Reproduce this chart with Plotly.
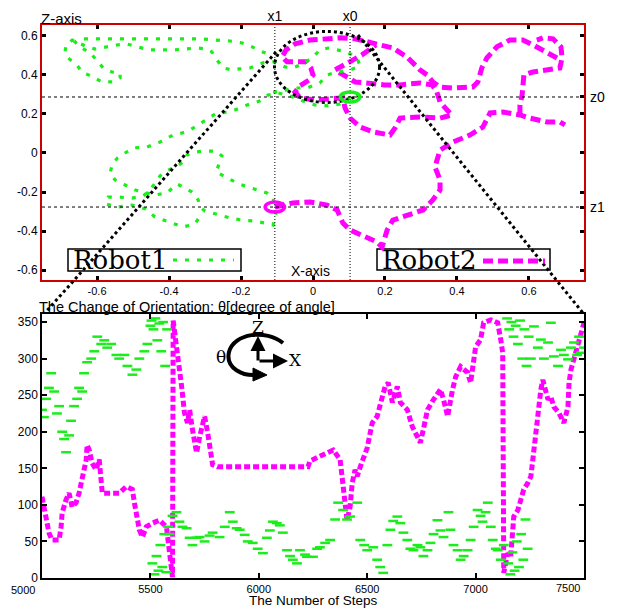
import plotly.graph_objects as go

W, H = 619, 608
OFF = 8  # the page body margin shifts the figure by this many pixels

# ---------------- top panel: positions in the X-Z plane ----------------
x0_pos, z0_pos = 0.103, 0.287
x1_pos, z1_pos = -0.106, -0.277

top_ticks = [-0.6, -0.4, -0.2, 0, 0.2, 0.4, 0.6]
top_tick_text = ['-0.6', '-0.4', '-0.2', '0', '0.2', '0.4', '0.6']

# Robot1 trajectory (two recorded pieces)
r1_a_x = [0.103, 0.075, 0.042, 0.006, -0.028, -0.064, -0.097, -0.125, -0.147, -0.183, -0.231, -0.267, -0.306, -0.35,
          -0.389, -0.425, -0.461, -0.5, -0.522, -0.544, -0.558, -0.564, -0.55, -0.522, -0.494, -0.461, -0.439, -0.406,
          -0.378, -0.361, -0.336, -0.319, -0.314, -0.3, -0.267, -0.231, -0.197, -0.161, -0.133, -0.111, -0.103, -0.108,
          -0.111, -0.128, -0.156, -0.189, -0.211, -0.239, -0.269, -0.261, -0.253, -0.269, -0.3, -0.328, -0.35, -0.356,
          -0.378, -0.406, -0.425, -0.439, -0.453, -0.472, -0.503, -0.542, -0.569, -0.575, -0.542, -0.503, -0.464,
          -0.439, -0.406, -0.361, -0.328, -0.314]
r1_a_z = [0.287, 0.251, 0.241, 0.246, 0.267, 0.292, 0.308, 0.297, 0.267, 0.246, 0.21, 0.205, 0.159, 0.108, 0.092,
          0.056, 0.031, 0.026, 0, -0.026, -0.062, -0.103, -0.138, -0.164, -0.19, -0.205, -0.215, -0.205, -0.159,
          -0.174, -0.2, -0.241, -0.277, -0.297, -0.313, -0.333, -0.344, -0.349, -0.359, -0.369, -0.313, -0.262,
          -0.226, -0.205, -0.19, -0.169, -0.154, -0.128, -0.097, -0.056, -0.015, 0.01, 0.01, 0.005, -0.01, -0.041,
          -0.067, -0.092, -0.118, -0.154, -0.19, -0.221, -0.231, -0.226, -0.226, -0.262, -0.277, -0.267, -0.287,
          -0.328, -0.349, -0.379, -0.364, -0.323]
r1_b_x = [-0.111, -0.092, -0.056, -0.017, 0.019, 0.039, 0.067, 0.103, 0.131, 0.122, 0.094, 0.067, 0.042, 0.019, 0,
          -0.028, -0.056, -0.078, -0.111, -0.139, -0.175, -0.203, -0.225, -0.25, -0.267, -0.281, -0.294, -0.322,
          -0.356, -0.389, -0.419, -0.453, -0.489, -0.517, -0.542, -0.569, -0.606, -0.633, -0.653, -0.669, -0.686,
          -0.689, -0.681, -0.656, -0.642, -0.611, -0.586, -0.558, -0.536, -0.536, -0.558, -0.583, -0.597, -0.619,
          -0.642, -0.661, -0.647, -0.606, -0.564, -0.522, -0.481, -0.439, -0.397, -0.356, -0.314, -0.272, -0.231,
          -0.197, -0.169, -0.147, -0.119]
r1_b_z = [0.313, 0.313, 0.333, 0.333, 0.359, 0.4, 0.415, 0.426, 0.446, 0.487, 0.518, 0.528, 0.538, 0.528, 0.492,
          0.456, 0.436, 0.441, 0.467, 0.462, 0.436, 0.431, 0.426, 0.436, 0.477, 0.518, 0.533, 0.538, 0.533, 0.528,
          0.528, 0.528, 0.544, 0.559, 0.554, 0.544, 0.533, 0.549, 0.564, 0.579, 0.554, 0.518, 0.487, 0.451, 0.415,
          0.39, 0.364, 0.364, 0.385, 0.41, 0.415, 0.436, 0.467, 0.513, 0.538, 0.569, 0.585, 0.585, 0.585, 0.585,
          0.585, 0.585, 0.585, 0.585, 0.585, 0.579, 0.574, 0.564, 0.544, 0.523, 0.503]

# Robot2 trajectory (three recorded pieces)
r2_a_x = [-0.106, -0.056, -0.008, 0.039, 0.067, 0.083, 0.103, 0.15, 0.178, 0.192, 0.206, 0.222, 0.261, 0.306, 0.333,
          0.353, 0.353, 0.339, 0.353, 0.389, 0.436, 0.472, 0.492, 0.528, 0.575, 0.603, 0.65, 0.686, 0.7]
r2_a_z = [-0.277, -0.256, -0.251, -0.267, -0.292, -0.359, -0.395, -0.431, -0.456, -0.482, -0.395, -0.344, -0.318,
          -0.292, -0.241, -0.19, -0.138, -0.072, 0.015, 0.056, 0.092, 0.133, 0.205, 0.21, 0.195, 0.179, 0.159, 0.159,
          0.144]
r2_b_x = [0.575, 0.575, 0.581, 0.583, 0.586, 0.611, 0.65, 0.686, 0.692, 0.689, 0.667, 0.639, 0.622]
r2_b_z = [0.195, 0.246, 0.297, 0.349, 0.4, 0.415, 0.426, 0.436, 0.487, 0.544, 0.585, 0.59, 0.579]
r2_c_x = [0.678, 0.644, 0.611, 0.583, 0.547, 0.511, 0.483, 0.469, 0.458, 0.444, 0.389, 0.353, 0.333, 0.317, 0.297,
          0.261, 0.222, 0.186, 0.158, 0.117, 0.075, 0.033, -0.008, -0.05, -0.075, -0.086, -0.072, -0.044, -0.019,
          -0.006, 0, -0.011, -0.036, -0.05, -0.036, 0.006, 0.047, 0.083, 0.089, 0.103, 0.131, 0.167, 0.214, 0.228,
          0.242, 0.297, 0.353, 0.386, 0.372, 0.353, 0.344, 0.331, 0.297, 0.242, 0.2, 0.158, 0.117, 0.089, 0.061,
          0.097, 0.136, 0.175]
r2_c_z = [0.487, 0.523, 0.554, 0.579, 0.579, 0.544, 0.487, 0.436, 0.364, 0.338, 0.333, 0.338, 0.364, 0.4, 0.426,
          0.492, 0.538, 0.554, 0.569, 0.585, 0.59, 0.585, 0.579, 0.559, 0.528, 0.492, 0.467, 0.467, 0.467, 0.436,
          0.4, 0.374, 0.344, 0.313, 0.282, 0.272, 0.277, 0.282, 0.231, 0.179, 0.133, 0.108, 0.092, 0.128, 0.179,
          0.185, 0.179, 0.195, 0.221, 0.262, 0.313, 0.349, 0.359, 0.349, 0.349, 0.354, 0.364, 0.395, 0.426, 0.462,
          0.503, 0.554]

# ---------------- bottom panel: orientation vs steps ----------------
step_ticks = [5000, 5500, 6000, 6500, 7000, 7500]
step_tick_text = ['', '5500', '6000', '6500', '7000', '']   # end labels are drawn pulled inward, as in the original
theta_ticks = [0, 50, 100, 150, 200, 250, 300, 350]

steps_r1 = [5000, 5009, 5019, 5032, 5042, 5056, 5069, 5079, 5093, 5102, 5111, 5125, 5134, 5148, 5162, 5171, 5185,
            5194, 5208, 5227, 5241, 5255, 5273, 5287, 5301, 5319, 5343, 5356, 5380, 5394, 5417, 5435, 5449, 5472,
            5486, 5500,
            5505, 5509, 5514, 5519, 5523, 5528, 5532, 5537, 5541, 5546, 5550, 5555, 5559, 5564, 5568, 5573, 5577,
            5582,
            5588, 5602, 5620, 5634, 5648, 5667, 5681, 5694, 5713, 5727, 5750, 5773, 5787, 5819, 5843, 5866, 5880,
            5898, 5912, 5935, 5949, 5972, 5995, 6019, 6037, 6051, 6065, 6083, 6097, 6111, 6130, 6144, 6157, 6176,
            6190, 6213, 6222, 6250, 6269, 6282, 6306, 6329, 6352, 6366, 6389, 6407, 6421, 6454, 6468, 6486, 6500,
            6528, 6546, 6560, 6574, 6593, 6607, 6620, 6639, 6653, 6667, 6685, 6699, 6713, 6732, 6745, 6759, 6778,
            6792, 6806, 6824, 6838, 6852, 6875, 6884, 6898, 6917, 6931, 6945, 6963, 6977, 6991, 7009, 7023, 7032,
            7046, 7056, 7070, 7079, 7093, 7102, 7116, 7130,
            7145, 7150, 7155, 7160, 7165, 7170, 7175, 7180, 7185, 7190, 7195, 7200, 7205, 7210, 7215, 7220, 7225,
            7230, 7235, 7240, 7245,
            7255, 7269, 7287, 7301, 7315, 7334, 7347, 7361, 7380, 7394, 7407, 7426, 7440, 7454, 7468, 7477, 7486,
            7500]
theta_r1 = [230, 220, 245, 260, 280, 255, 225, 235, 200, 190, 172, 195, 215, 235, 245, 260, 255, 280, 295, 300, 310,
            330, 320, 325, 315, 320, 305, 300, 305, 290, 278, 285, 300, 310, 320, 345,
            352, 20, 340, 5, 355, 30, 325, 10, 348, 45, 310, 15, 350, 60, 290, 8, 340, 70,
            60, 85, 90, 77, 70, 68, 55, 45, 55, 56, 50, 58, 62, 56, 70, 90, 77, 68, 66, 59, 50, 48, 40, 34, 55, 65,
            77, 75, 72, 62, 38, 30, 25, 20, 38, 32, 29, 29, 40, 42, 48, 52, 80, 103, 93, 80, 84, 103, 52, 45, 38, 42,
            25, 15, 7, 45, 66, 78, 84, 75, 62, 52, 40, 38, 45, 42, 30, 38, 48, 60, 79, 65, 56, 90, 66, 45, 38, 25, 30,
            38, 52, 70, 93, 85, 77, 90, 103, 70, 52, 40, 38, 25, 45,
            355, 20, 340, 5, 350, 35, 330, 10, 345, 50, 320, 15, 352, 60, 300, 25, 340, 80, 290, 40, 330,
            300, 344, 315, 326, 300, 322, 349, 303, 290, 312, 305, 299, 315, 322, 305, 330, 308, 315]

steps_r2 = [5000, 5019, 5032, 5046, 5079, 5088, 5093, 5111, 5125, 5139, 5157, 5171, 5181, 5185, 5204, 5208, 5218,
            5231, 5250, 5264, 5278, 5310, 5356, 5389, 5417, 5426, 5435, 5449, 5463, 5481, 5509, 5542, 5574, 5588,
            5597, 5602, 5605, 5620, 5625, 5634, 5644, 5648, 5657, 5671, 5681, 5694, 5713, 5727, 5741, 5750, 5764,
            5773, 5787, 5810, 6227, 6236, 6250, 6282, 6315, 6343, 6375, 6384, 6389, 6398, 6407, 6421, 6431, 6444,
            6454, 6468, 6482, 6500, 6523, 6546, 6570, 6583, 6597, 6616, 6639, 6653, 6685, 6708, 6732, 6745, 6759,
            6778, 6806, 6838, 6852, 6871, 6894, 6908, 6931, 6963, 6977, 6986, 7000, 7023, 7037, 7070, 7102, 7116,
            7125, 7130, 7148, 7162, 7167, 7176, 7195, 7208, 7222, 7241, 7255, 7269, 7278, 7287, 7301, 7310, 7334,
            7347, 7361, 7384, 7407, 7426, 7431, 7440, 7454, 7472, 7486, 7500]
theta_r2 = [111, 84, 62, 52, 52, 70, 89, 107, 116, 97, 103, 116, 130, 139, 162, 182, 175, 157, 148, 162, 116, 116,
            116, 125, 121, 103, 84, 66, 56, 70, 75, 79, 70, 38, 15, 1, 352, 322, 303, 285, 262, 244, 226, 212, 230,
            203, 171, 193, 212, 221, 199, 179, 155, 152, 152, 160, 162, 168, 171, 175, 162, 139, 121, 103, 79, 97,
            130, 148, 139, 152, 166, 178, 212, 221, 248, 262, 267, 240, 262, 240, 230, 207, 193, 185, 203, 230, 244,
            258, 244, 221, 258, 275, 289, 281, 267, 285, 316, 326, 349, 353, 349, 326, 308, 7, 34, 29, 56, 84, 93,
            107, 121, 130, 139, 175, 203, 221, 258, 271, 244, 248, 234, 226, 212, 234, 267, 285, 299, 316, 335, 349]

GREEN = '#1aee1a'
MAGENTA = '#ff00ff'
RED = '#cc0000'


def PX(x):
    return (x - OFF) / W


def PY(y):
    return 1 - (y - OFF) / H


fig = go.Figure()

# top panel traces
fig.add_trace(go.Scatter(x=r2_a_x + [None] + r2_b_x + [None] + r2_c_x,
                         y=r2_a_z + [None] + r2_b_z + [None] + r2_c_z,
                         mode='lines', line=dict(color=MAGENTA, width=5, dash='10px,5px'),
                         xaxis='x', yaxis='y', hoverinfo='skip'))
fig.add_trace(go.Scatter(x=r1_a_x + [None] + r1_b_x, y=r1_a_z + [None] + r1_b_z,
                         mode='lines', line=dict(color=GREEN, width=3.2, dash='4px,8px'),
                         xaxis='x', yaxis='y', hoverinfo='skip'))
# dummy for the labelled overlay axes
fig.add_trace(go.Scatter(x=[x0_pos], y=[z0_pos], mode='markers', marker=dict(opacity=0),
                         xaxis='x3', yaxis='y3', hoverinfo='skip'))

# bottom panel traces
fig.add_trace(go.Scatter(x=steps_r2, y=theta_r2, mode='lines',
                         line=dict(color=MAGENTA, width=5, dash='6px,3px'),
                         xaxis='x2', yaxis='y2', hoverinfo='skip'))
fig.add_trace(go.Scatter(x=steps_r1, y=theta_r1, mode='markers',
                         marker=dict(symbol='line-ew', size=7, line=dict(width=2.5, color=GREEN)),
                         xaxis='x2', yaxis='y2', hoverinfo='skip'))

top_dom_x = [PX(42), PX(584)]
top_dom_y = [PY(280), PY(25)]
bot_dom_y = [PY(578), PY(314)]
tick_font = dict(family='Liberation Sans, Arial, sans-serif', size=12, color='black')
small_tick_font = dict(family='Liberation Sans, Arial, sans-serif', size=11, color='black')
lab_font = dict(family='Liberation Sans, Arial, sans-serif', size=14, color='black')

fig.update_layout(
    width=W, height=H, margin=dict(l=0, r=0, t=0, b=0, pad=0, autoexpand=False),
    paper_bgcolor='white', plot_bgcolor='white', showlegend=False,
    font=dict(family='Liberation Sans, Arial, sans-serif', size=12, color='black'),
    xaxis=dict(domain=top_dom_x, anchor='y', range=[-0.753, 0.753], tickvals=top_ticks, ticktext=top_tick_text,
               ticks='inside', ticklen=4, tickwidth=3, tickcolor='black', showline=True, linecolor=RED,
               linewidth=2, mirror='ticks', showgrid=False, zeroline=False, tickfont=small_tick_font,
               automargin=False),
    yaxis=dict(domain=top_dom_y, anchor='x', range=[-0.651, 0.656], tickvals=top_ticks, ticktext=top_tick_text,
               ticks='inside', ticklen=4, tickwidth=3, tickcolor='black', showline=True, linecolor=RED,
               linewidth=2, mirror='ticks', showgrid=False, zeroline=False, tickfont=tick_font, automargin=False),
    xaxis3=dict(overlaying='x', side='top', anchor='y3', range=[-0.753, 0.753], tickvals=[x1_pos, x0_pos],
                ticktext=['x1', 'x0'], ticks='', showline=False, showgrid=False, zeroline=False, automargin=False,
                tickfont=lab_font),
    yaxis3=dict(overlaying='y', side='right', anchor='x3', range=[-0.651, 0.656], tickvals=[z0_pos, z1_pos],
                ticktext=['z0', 'z1'], ticks='inside', ticklen=4, tickwidth=3, tickcolor='black', showline=False,
                showgrid=False, zeroline=False, automargin=False, tickfont=lab_font, ticklabelstandoff=5),
    xaxis2=dict(domain=top_dom_x, anchor='y2', range=[5000, 7500], tickvals=step_ticks, ticktext=step_tick_text,
                ticks='inside', ticklen=5, tickwidth=1.5, tickcolor='black', showline=True, linecolor='black',
                linewidth=1.5, mirror='ticks', showgrid=False, zeroline=False, tickfont=small_tick_font,
                automargin=False),
    yaxis2=dict(domain=bot_dom_y, anchor='x2', range=[0, 361], tickvals=theta_ticks,
                ticks='inside', ticklen=5, tickwidth=1.5, tickcolor='black', showline=True, linecolor='black',
                linewidth=1.5, mirror='ticks', showgrid=False, zeroline=False, tickfont=tick_font, automargin=False),
)

shapes = []
# reference lines through the two start/goal points
for xv in (x1_pos, x0_pos):
    shapes.append(dict(type='line', xref='x', yref='y domain', x0=xv, x1=xv, y0=0, y1=1,
                       line=dict(color='black', width=1, dash='1px,2px')))
for zv in (z0_pos, z1_pos):
    shapes.append(dict(type='line', xref='x domain', yref='y', x0=0, x1=1, y0=zv, y1=zv,
                       line=dict(color='black', width=1, dash='3px,3px')))
# magnifying ellipse
shapes.append(dict(type='circle', xref='x', yref='y', x0=-0.107, x1=0.185, y0=0.259, y1=0.623,
                   line=dict(color='black', width=3, dash='dot')))
# marker circles
shapes.append(dict(type='circle', xref='x', yref='y', x0=x0_pos - 0.027, x1=x0_pos + 0.027,
                   y0=z0_pos - 0.026, y1=z0_pos + 0.026, line=dict(color=GREEN, width=3.5)))
shapes.append(dict(type='circle', xref='x', yref='y', x0=x1_pos - 0.027, x1=x1_pos + 0.027,
                   y0=z1_pos - 0.026, y1=z1_pos + 0.026, line=dict(color=MAGENTA, width=3.5)))
# zoom connector lines
shapes.append(dict(type='line', xref='paper', yref='paper', x0=PX(276), y0=PY(52), x1=PX(45), y1=PY(313),
                   line=dict(color='black', width=3, dash='dot')))
shapes.append(dict(type='line', xref='paper', yref='paper', x0=PX(358), y0=PY(35), x1=PX(583), y1=PY(313),
                   line=dict(color='black', width=3, dash='dot')))
# legend boxes
shapes.append(dict(type='rect', xref='paper', yref='paper', x0=PX(68), x1=PX(241), y0=PY(271), y1=PY(249),
                   line=dict(color='black', width=1.5), fillcolor='white', layer='below'))
shapes.append(dict(type='rect', xref='paper', yref='paper', x0=PX(377), x1=PX(550), y0=PY(270), y1=PY(249),
                   line=dict(color='black', width=1.5), fillcolor='white', layer='below'))
shapes.append(dict(type='line', xref='paper', yref='paper', x0=PX(173), x1=PX(234), y0=PY(260), y1=PY(260),
                   line=dict(color=GREEN, width=3.2, dash='4px,8px')))
shapes.append(dict(type='line', xref='paper', yref='paper', x0=PX(483), x1=PX(545), y0=PY(261), y1=PY(261),
                   line=dict(color=MAGENTA, width=5, dash='10px,5px')))
# rotation icon arc + arrowhead
arc = 'M {},{} C {},{} {},{} {},{} C {},{} {},{} {},{}'.format(
    PX(283), PY(343), PX(266), PY(329), PX(234), PY(333), PX(229), PY(352),
    PX(225), PY(369), PX(244), PY(376), PX(256), PY(375))
shapes.append(dict(type='path', xref='paper', yref='paper', path=arc, line=dict(color='black', width=4)))
head = 'M {},{} L {},{} L {},{} Z'.format(PX(253), PY(368), PX(267), PY(375), PX(253), PY(381))
shapes.append(dict(type='path', xref='paper', yref='paper', path=head, fillcolor='black',
                   line=dict(color='black', width=1)))
fig.update_layout(shapes=shapes)

ann = []
sans = 'Liberation Sans, Arial, sans-serif'
serif = 'DejaVu Serif, Liberation Serif, serif'
ann.append(dict(text='Z-axis', x=PX(39), y=PY(18), xref='paper', yref='paper', xanchor='left', yanchor='middle',
                showarrow=False, font=dict(family=sans, size=15)))
ann.append(dict(text='X-axis', x=PX(289), y=PY(271), xref='paper', yref='paper', xanchor='left',
                yanchor='middle', showarrow=False, font=dict(family=sans, size=14)))
ann.append(dict(text='Robot1', x=PX(71), y=PY(260), xref='paper', yref='paper', xanchor='left', yanchor='middle',
                showarrow=False, font=dict(family=serif, size=26)))
ann.append(dict(text='Robot2', x=PX(380), y=PY(260), xref='paper', yref='paper', xanchor='left',
                yanchor='middle', showarrow=False, font=dict(family=serif, size=26)))
ann.append(dict(text='The Change of Orientation: θ[degree of angle]', x=PX(37), y=PY(307), xref='paper',
                yref='paper', xanchor='left', yanchor='middle', showarrow=False, font=dict(family=sans, size=14.5)))
ann.append(dict(text='The Number of Steps', x=PX(313), y=PY(600), xref='paper', yref='paper', xanchor='center',
                yanchor='middle', showarrow=False, font=dict(family=sans, size=13.5)))
# end labels of the step axis
ann.append(dict(text=str(step_ticks[0]), x=PX(9), y=PY(590), xref='paper', yref='paper', xanchor='left',
                yanchor='middle', showarrow=False, font=small_tick_font))
ann.append(dict(text=str(step_ticks[-1]), x=PX(568), y=PY(588), xref='paper', yref='paper', xanchor='center',
                yanchor='middle', showarrow=False, font=small_tick_font))
ann.append(dict(text='Z', x=PX(258), y=PY(327), xref='paper', yref='paper', xanchor='center', yanchor='middle',
                showarrow=False, font=dict(family=serif, size=17)))
ann.append(dict(text='X', x=PX(295), y=PY(360), xref='paper', yref='paper', xanchor='center', yanchor='middle',
                showarrow=False, font=dict(family=serif, size=17)))
ann.append(dict(text='θ', x=PX(221), y=PY(357), xref='paper', yref='paper', xanchor='center', yanchor='middle',
                showarrow=False, font=dict(family=serif, size=17)))
ann.append(dict(text='', x=PX(258), y=PY(336), xref='paper', yref='paper', ax=0, ay=26, showarrow=True,
                arrowhead=2, arrowsize=1, arrowwidth=3, arrowcolor='black'))
ann.append(dict(text='', x=PX(288), y=PY(361), xref='paper', yref='paper', ax=-30, ay=0, showarrow=True,
                arrowhead=2, arrowsize=1, arrowwidth=3, arrowcolor='black'))
fig.update_layout(annotations=ann)

fig.write_html("out.html")
